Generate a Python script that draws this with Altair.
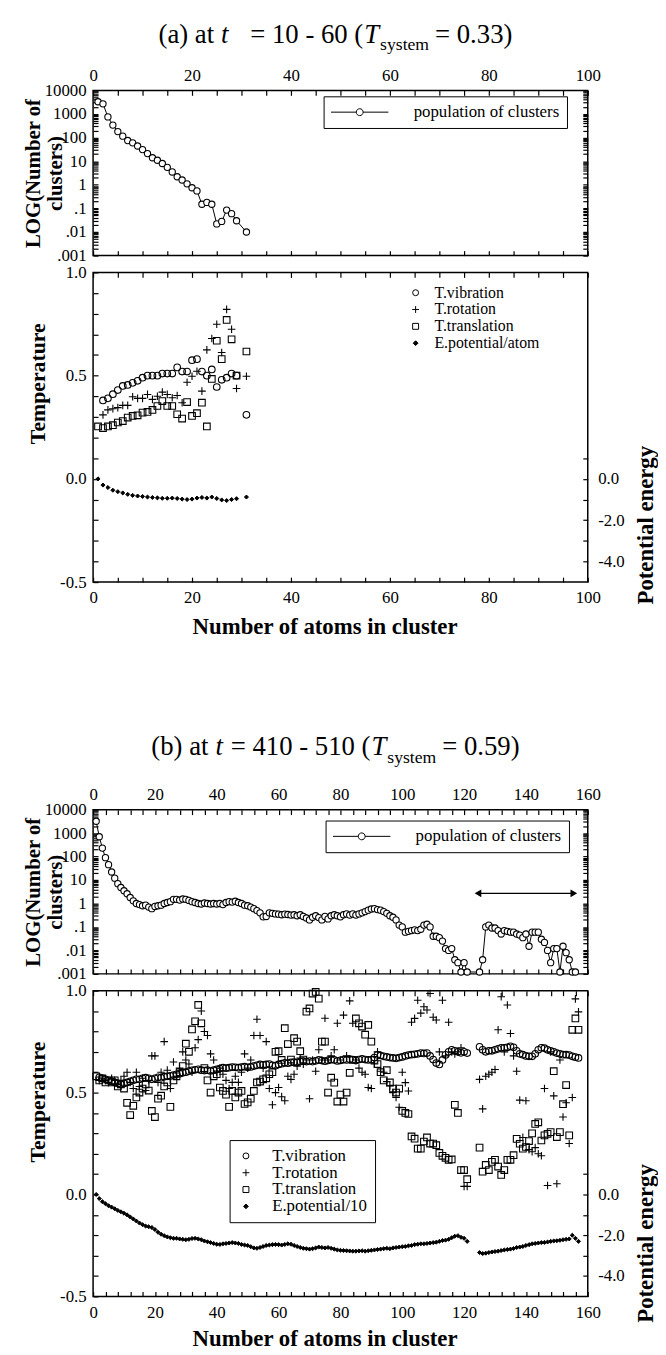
import altair as alt
import pandas as pd

FONT = "Liberation Serif"
PLUS = "M-1.15,0H1.15M0,-1.15V1.15"
DIAMOND = "M0,-0.8L0.8,0L0,0.8L-0.8,0Z"
LINE_CIRCLE = ("M-1,0H-0.12M0.12,0H1M0.12,0A0.12,0.12,0,1,1,-0.12,0"
               "A0.12,0.12,0,1,1,0.12,0Z")

# ---------------- panel (a): t = 10 - 60 ----------------
a_pop_n = list(range(1, 30)) + [31]
a_pop = [3300, 2700, 750, 340, 180, 115, 75, 60, 44, 31,
         21, 14, 11, 8, 5.5, 3.5, 2.2, 1.6, 1.1, 0.75,
         0.55, 0.15, 0.18, 0.15, 0.022, 0.028, 0.085, 0.06, 0.03, 0.01]

a_vib_n = list(range(2, 30)) + [31]
a_vib = [0.38, 0.39, 0.41, 0.43, 0.45, 0.455, 0.465, 0.475, 0.49, 0.50,
         0.50, 0.50, 0.51, 0.51, 0.51, 0.54, 0.52, 0.52, 0.575, 0.58,
         0.52, 0.50, 0.53, 0.445, 0.48, 0.49, 0.51, 0.50, 0.31]

a_rot_n = list(range(2, 30)) + [31]
a_rot = [0.31, 0.334, 0.34, 0.345, 0.356, 0.356, 0.398, 0.39, 0.39, 0.409,
         0.385, 0.40, 0.42, 0.409, 0.393, 0.404, 0.369, 0.468, 0.497, 0.521,
         0.425, 0.625, 0.68, 0.749, 0.612, 0.821, 0.725, 0.438, 0.497]

a_tra_n = list(range(1, 30)) + [31]
a_tra = [0.254, 0.246, 0.254, 0.26, 0.273, 0.28, 0.297, 0.305, 0.308, 0.321,
         0.324, 0.334, 0.353, 0.377, 0.353, 0.353, 0.313, 0.292, 0.372, 0.305,
         0.318, 0.369, 0.254, 0.484, 0.669, 0.58, 0.77, 0.676, 0.50, 0.617]

a_pot_n = list(range(1, 30)) + [31]
a_pot = [0.0, -0.30, -0.42, -0.55, -0.62, -0.68, -0.75, -0.80, -0.83, -0.85,
         -0.88, -0.90, -0.92, -0.94, -0.94, -0.93, -0.95, -0.98, -1.0, -0.98,
         -0.93, -0.90, -0.93, -0.88, -0.95, -1.02, -1.05, -1.0, -0.96, -0.88]

# ---------------- panel (b): t = 410 - 510 ----------------
b_pop_n = list(range(1, 122)) + list(range(125, 157))
b_pop = [3200, 700, 230, 90, 45, 22, 12, 7, 4.8, 3.5, 2.6, 1.8, 1.3, 1.0, 0.9, 0.8, 0.85, 0.7, 0.6, 0.75,
         0.8, 0.85, 1.0, 1.1, 1.2, 1.5, 1.5, 1.4, 1.55, 1.5, 1.35, 1.2, 1.1, 1.0, 0.95, 1.05, 1.0, 0.95, 1.0, 0.95,
         1.0, 0.9, 1.1, 1.2, 1.15, 1.25, 1.1, 1.0, 0.85, 0.8, 0.7, 0.6, 0.5, 0.4, 0.27, 0.28, 0.4, 0.38, 0.36, 0.35,
         0.33, 0.35, 0.34, 0.32, 0.33, 0.3, 0.33, 0.28, 0.24, 0.2, 0.26, 0.3, 0.25, 0.2, 0.28, 0.22, 0.3, 0.33,
         0.3, 0.27, 0.33, 0.36, 0.32,
         0.36, 0.32, 0.36, 0.4, 0.45, 0.52, 0.58, 0.6, 0.55, 0.52, 0.45, 0.38, 0.3, 0.26,
         0.2, 0.12, 0.1, 0.06, 0.065, 0.07, 0.075, 0.07, 0.08, 0.12, 0.13, 0.1, 0.04, 0.04, 0.035, 0.025,
         0.012, 0.01, 0.012, 0.004, 0.003, 0.0012, 0.003, 0.0012,
         0.0012, 0.004, 0.1, 0.12, 0.09, 0.09, 0.07, 0.05, 0.07, 0.065, 0.06, 0.06, 0.05, 0.045, 0.035, 0.05,
         0.015, 0.06, 0.06, 0.06, 0.03, 0.022, 0.01, 0.003, 0.012, 0.012, 0.0012, 0.015, 0.008, 0.004,
         0.0012, 0.0012]

b_vib_n = list(range(2, 122)) + list(range(125, 158))
b_vib = [0.575, 0.57, 0.565, 0.56, 0.555, 0.55, 0.545,
         0.54, 0.545, 0.55, 0.555, 0.56, 0.565, 0.565,
         0.57, 0.573, 0.57, 0.565, 0.57, 0.575, 0.573, 0.578, 0.58, 0.582,
         0.586, 0.59, 0.593, 0.597, 0.60, 0.605, 0.609, 0.612,
         0.614, 0.61, 0.608, 0.61, 0.606, 0.61, 0.614, 0.618,
         0.622, 0.62, 0.622, 0.625, 0.624, 0.622, 0.625, 0.627, 0.624,
         0.626, 0.63, 0.634, 0.638, 0.636, 0.638, 0.64, 0.634, 0.632, 0.638,
         0.642, 0.646, 0.644, 0.648, 0.65, 0.648, 0.652, 0.654, 0.652, 0.655,
         0.652, 0.656, 0.66, 0.657, 0.654, 0.658, 0.662, 0.66, 0.655, 0.658,
         0.662, 0.66, 0.664, 0.662, 0.657, 0.662, 0.665, 0.662, 0.66, 0.662,
         0.672, 0.685, 0.682, 0.678, 0.675, 0.672, 0.67, 0.668, 0.672, 0.675,
         0.68, 0.684, 0.686, 0.688, 0.69, 0.694, 0.692, 0.694, 0.68, 0.662,
         0.645, 0.638, 0.66, 0.685, 0.70, 0.71, 0.705, 0.70, 0.695, 0.70, 0.694,
         0.725, 0.71, 0.70, 0.705, 0.705, 0.71, 0.715, 0.72, 0.72, 0.722,
         0.727, 0.722, 0.705, 0.69, 0.686, 0.68, 0.678, 0.678, 0.69, 0.71,
         0.72, 0.718, 0.71, 0.705, 0.70, 0.694, 0.69, 0.686, 0.686, 0.684,
         0.678, 0.674, 0.67]

b_rot_n = list(range(2, 122)) + list(range(125, 158))
b_rot = [0.56, 0.57, 0.56, 0.55, 0.57, 0.56, 0.54, 0.56, 0.58, 0.60, 0.55, 0.52, 0.60, 0.53, 0.57, 0.51, 0.56, 0.68, 0.68, 0.55,
         0.60, 0.75, 0.61, 0.52, 0.65, 0.58, 0.62, 0.70, 0.66, 0.64, 0.60, 0.72, 0.76, 0.90, 0.80, 0.78, 0.69, 0.66, 0.60, 0.62,
         0.59, 0.56, 0.52, 0.55, 0.58, 0.55, 0.60, 0.69, 0.62, 0.66, 0.78, 0.86, 0.78, 0.62, 0.75, 0.52, 0.44, 0.50, 0.525, 0.48,
         0.46, 0.58, 0.565, 0.59, 0.63, 0.67, 0.64, 0.66, 0.47, 0.66, 0.605, 0.71, 0.66, 0.865, 0.66, 0.68, 0.71, 0.84, 0.66, 0.88,
         0.68, 0.95, 0.84, 0.66, 0.62, 0.60, 0.59, 0.525, 0.52, 0.64, 0.70, 0.605, 0.60, 0.554, 0.533, 0.50, 0.476, 0.428, 0.60, 0.549,
         0.508, 0.845, 0.864, 0.953, 0.89, 0.921, 0.905, 0.986, 0.87, 0.856, 0.70, 0.953, 0.68, 0.845, 0.70, 0.69, 0.70, 0.72, 0.04, 0.04,
         0.565, 0.42, 0.58, 0.59, 0.60, 0.613, 0.808, 0.97, 0.70, 0.93,
         0.79, 0.68, 0.605, 0.463, 0.28, 0.46, 0.22, 0.21, 0.23, 0.20,
         0.19, 0.52, 0.044, 0.70, 0.484, 0.053, 0.66, 0.38, 0.45, 0.25,
         0.476, 0.96, 0.896]

b_tra_n = list(range(1, 122)) + list(range(125, 158))
b_tra = [0.58, 0.56, 0.57, 0.55, 0.56, 0.55, 0.56, 0.53, 0.54, 0.52, 0.45, 0.39, 0.435, 0.476, 0.50, 0.52, 0.54, 0.51, 0.41, 0.38,
         0.47, 0.485, 0.53, 0.55, 0.43, 0.56, 0.58, 0.60, 0.63, 0.74, 0.70, 0.81, 0.85, 0.93, 0.84, 0.62, 0.56, 0.50, 0.58, 0.59,
         0.525, 0.508, 0.49, 0.43, 0.508, 0.476, 0.50, 0.508, 0.444, 0.452, 0.47, 0.508, 0.55, 0.554, 0.565, 0.57, 0.59, 0.60, 0.70, 0.703,
         0.66, 0.816, 0.738, 0.662, 0.767, 0.75, 0.703, 0.662, 0.897, 0.913, 0.986, 0.994, 0.961, 0.75, 0.75, 0.50, 0.573, 0.549, 0.456, 0.49,
         0.456, 0.50, 0.597, 0.66, 0.864, 0.84, 0.824, 0.784, 0.832, 0.75, 0.66, 0.64, 0.60, 0.56, 0.61, 0.55, 0.52, 0.50, 0.52, 0.41,
         0.40, 0.395, 0.285, 0.274, 0.225, 0.225, 0.26, 0.28, 0.25, 0.25, 0.242, 0.204, 0.19, 0.18, 0.17, 0.172, 0.44, 0.40, 0.12, 0.12, 0.075,
         0.23, 0.112, 0.145, 0.12, 0.16, 0.17, 0.137, 0.096, 0.12, 0.17,
         0.17, 0.193, 0.273, 0.249, 0.225, 0.233, 0.262, 0.30, 0.346, 0.354,
         0.265, 0.29, 0.298, 0.306, 0.605, 0.282, 0.306, 0.443, 0.537, 0.29,
         0.808, 0.864, 0.808]

b_pot_n = list(range(1, 122)) + list(range(125, 158))
b_pot = [0.0, -0.2, -0.35, -0.45, -0.55, -0.62, -0.7, -0.78, -0.85, -0.92, -1.0, -1.1, -1.2, -1.3, -1.4, -1.48, -1.55, -1.58, -1.62, -1.72,
         -1.85, -1.95, -2.02, -2.08, -2.12, -2.15, -2.15, -2.18, -2.2, -2.22, -2.2, -2.16, -2.15, -2.18, -2.22, -2.28, -2.32, -2.36, -2.4, -2.44,
         -2.45, -2.42, -2.4, -2.38, -2.36, -2.38, -2.4, -2.45, -2.48, -2.5, -2.56, -2.62, -2.64, -2.6, -2.55, -2.5, -2.48, -2.46, -2.45, -2.46,
         -2.48, -2.45, -2.42, -2.44, -2.5, -2.55, -2.6, -2.64, -2.66, -2.68, -2.66, -2.62, -2.58, -2.6, -2.62, -2.6, -2.64, -2.68, -2.72, -2.74,
         -2.75, -2.76, -2.77, -2.78, -2.78, -2.77, -2.76, -2.78, -2.76, -2.74, -2.72, -2.7, -2.68, -2.66, -2.64, -2.66, -2.62, -2.6, -2.58, -2.56,
         -2.55, -2.52, -2.5, -2.46, -2.44, -2.42, -2.42, -2.4, -2.38, -2.36, -2.34, -2.3, -2.26, -2.24, -2.2, -2.12, -2.05, -2.02, -2.1, -2.15, -2.3,
         -2.85, -2.9, -2.88, -2.85, -2.82, -2.8, -2.78, -2.75, -2.72, -2.7,
         -2.68, -2.65, -2.6, -2.58, -2.55, -2.5, -2.46, -2.42, -2.4, -2.38,
         -2.36, -2.35, -2.33, -2.3, -2.28, -2.27, -2.25, -2.22, -2.2, -2.18,
         -2.0, -2.15, -2.3]

b_arrow_n = [124.5, 155.5]
b_arrow_y = 2.7

# title pieces: text, style, kind, gap after (px)
titles_a = [("(a) at", "normal", "main", 7), ("t", "italic", "main", 22), ("= 10 - 60 (", "normal", "main", 1),
            ("T", "italic", "main", 1), ("system", "normal", "sub", 6), ("= 0.33)", "normal", "main", 0)]
titles_b = [("(b) at", "normal", "main", 7), ("t", "italic", "main", 8), ("= 410 - 510 (", "normal", "main", 1),
            ("T", "italic", "main", 1), ("system", "normal", "sub", 6), ("= 0.59)", "normal", "main", 0)]

# ---------------- helpers ----------------
W = 500
TK = 5  # tick length; ticks drawn inward by pulling each axis in by TK
ONE = pd.DataFrame({"k": [0]})
CW = {" ": 250, "(": 333, ")": 333, "a": 444, "b": 500, "t": 278, "=": 564, "-": 333, ".": 250,
      "T": 611, "s": 389, "y": 500, "e": 444, "m": 778}


def text_w(s, size, italic=False):
    tot = 0
    for ch in s:
        if ch.isdigit():
            tot += 500
        elif italic and ch == "T":
            tot += 556
        else:
            tot += CW.get(ch, 500)
    return tot * size / 1000.0


def title_layers(pieces, cx, base_y, size=27):
    sub = size * 0.66
    widths = [text_w(t, sub if k == "sub" else size, st == "italic") for t, st, k, g in pieces]
    total = sum(widths) + sum(p[3] for p in pieces)
    x = cx - total / 2
    out = []
    for (t, st, kind, gap), w in zip(pieces, widths):
        fs = sub if kind == "sub" else size
        dy = size * 0.28 if kind == "sub" else 0
        out.append(alt.Chart(ONE).mark_text(text=t, font=FONT, fontSize=fs, fontStyle=st, align="left",
                                            baseline="alphabetic", color="black")
                   .encode(x=alt.value(x), y=alt.value(base_y + dy)))
        x += w + gap
    return out


DECADES = [0.001, 0.01, 0.1, 1, 10, 100, 1000, 10000]
MINORS = [m * 10 ** k for k in range(-3, 4) for m in range(2, 10)]
LOG_LABEL = ("abs(log(datum.value)/LN10 - round(log(datum.value)/LN10)) < 0.001 ? "
             "(datum.value >= 1 ? format(datum.value, 'd') : replace(format(datum.value, '.3~f'), '0.', '.')) : ''")


def inward(**kw):
    return alt.Axis(offset=-TK, tickSize=TK, domain=False, labelOverlap=False, labelFlush=False, **kw)


def log_panel(n, pop, xmax, xstep, height, legend_xy, title_pieces, title_y, extra=None):
    df = pd.DataFrame({"n": n, "pop": pop, "series": "population of clusters"})
    xs = alt.Scale(domain=[0, xmax], nice=False, zero=False)
    ys = alt.Scale(type="log", domain=[0.001, 10000], nice=False)
    xvals = list(range(0, xmax + 1, xstep))
    top_axis = inward(orient="top", values=xvals, labelExpr="datum.value % 20 == 0 ? datum.label : ''",
                      title=None, labelPadding=1 + TK)
    bot_axis = inward(orient="bottom", values=xvals, labels=False, title=None)
    left_axis = inward(orient="left", values=DECADES + MINORS, labelExpr=LOG_LABEL,
                       title=["LOG(Number of", "clusters)"], titleX=-60 - TK, titleY=height / 2,
                       titleAngle=270, titleAlign="center", titleBaseline="middle", titleLineHeight=22,
                       titleFontSize=21, labelPadding=2 + TK)
    right_axis = inward(orient="right", values=DECADES + MINORS, labels=False, title=None)
    line = alt.Chart(df).mark_line(color="black", strokeWidth=1).encode(
        x=alt.X("n:Q", scale=xs, axis=top_axis), y=alt.Y("pop:Q", scale=ys, axis=left_axis))
    pts = alt.Chart(df).mark_point(shape="circle", filled=True, fill="white", size=40, strokeWidth=1.1,
                                   opacity=1).encode(
        x=alt.X("n:Q", scale=xs, axis=bot_axis), y=alt.Y("pop:Q", scale=ys, axis=right_axis),
        stroke=alt.Stroke("series:N", scale=alt.Scale(domain=["population of clusters"], range=["black"]),
                          legend=alt.Legend(title=None, orient="none", legendX=legend_xy[0], legendY=legend_xy[1],
                                            symbolType=LINE_CIRCLE, symbolSize=58 * 58, clipHeight=18,
                                            symbolFillColor="white", symbolStrokeColor="black",
                                            symbolStrokeWidth=1, labelFont=FONT, labelFontSize=17,
                                            labelOffset=25, padding=7, strokeColor="black")))
    layers = [line, pts]
    if extra is not None:
        layers += extra(xs, ys)
    layers += title_layers(title_pieces, 245, title_y)
    return alt.layer(*layers).properties(width=W, height=height)


def arrow_layers(xs, ys):
    adf = pd.DataFrame({"x1": [b_arrow_n[0]], "x2": [b_arrow_n[1]], "y": [b_arrow_y]})
    rule = alt.Chart(adf).mark_rule(color="black", strokeWidth=1.2).encode(
        x=alt.X("x1:Q", scale=xs, axis=None), x2="x2:Q", y=alt.Y("y:Q", scale=ys, axis=None))
    left = alt.Chart(adf).mark_point(shape="triangle-left", filled=True, color="black", size=60, opacity=1).encode(
        x=alt.X("x1:Q", scale=xs, axis=None), y=alt.Y("y:Q", scale=ys, axis=None))
    right = alt.Chart(adf).mark_point(shape="triangle-right", filled=True, color="black", size=60, opacity=1).encode(
        x=alt.X("x2:Q", scale=xs, axis=None), y=alt.Y("y:Q", scale=ys, axis=None))
    return [rule, left, right]


def temp_panel(vib, rot, tra, pot, pot_label, xmax, xstep, height, legend, xtitle_y):
    domain = ["T.vibration", "T.rotation", "T.translation", pot_label]
    shape_sc = alt.Scale(domain=domain, range=["circle", PLUS, "square", DIAMOND])
    fill_sc = alt.Scale(domain=domain, range=["transparent", "transparent", "transparent", "black"])
    stroke_sc = alt.Scale(domain=domain, range=["black", "black", "black", "black"])
    rows = []
    for (nn, vv), lab in ((vib, "T.vibration"), (rot, "T.rotation"), (tra, "T.translation")):
        for a, b in zip(nn, vv):
            rows.append({"n": a, "T": b, "series": lab})
    tdf = pd.DataFrame(rows)
    pdf = pd.DataFrame({"n": pot[0], "P": pot[1], "series": pot_label})
    xs = alt.Scale(domain=[0, xmax], nice=False, zero=False)
    xvals = list(range(0, xmax + 1, xstep))
    bot_axis = inward(orient="bottom", values=xvals, labelExpr="datum.value % 20 == 0 ? datum.label : ''",
                      title="Number of atoms in cluster", titleX=234, titleY=xtitle_y + TK,
                      titleBaseline="alphabetic", titleFontSize=23, labelPadding=3 + TK)
    top_axis = inward(orient="top", values=xvals, labels=False, title=None)
    tvals = [round(-0.5 + 0.1 * i, 1) for i in range(16)]
    left_axis = inward(orient="left", values=tvals,
                       labelExpr="abs(datum.value*2 - round(datum.value*2)) < 0.01 ? "
                                 "(datum.value < 0 ? '-' : '') + format(abs(datum.value), '.1f') : ''",
                       title="Temperature", titleX=-56 - TK, titleY=112, titleAngle=270,
                       titleAlign="center", titleBaseline="middle", labelPadding=2 + TK)
    right_axis = inward(orient="right", values=[-4, -3, -2, -1, 0, 1],
                        labelExpr="datum.value <= 0 && datum.value % 2 == 0 ? "
                                  "(datum.value < 0 ? '-' : '') + format(abs(datum.value), '.1f') : ''",
                        title="Potential energy", titleX=58 + TK, titleY=255, titleAngle=270,
                        titleAlign="center", titleBaseline="middle", titleFontSize=23,
                        labelPadding=5 + TK)
    enc_common = dict(
        shape=alt.Shape("series:N", scale=shape_sc, legend=legend),
        fill=alt.Fill("series:N", scale=fill_sc, legend=legend),
        stroke=alt.Stroke("series:N", scale=stroke_sc, legend=legend))
    temps = alt.Chart(tdf).mark_point(filled=True, size=45, strokeWidth=1.1, opacity=1).encode(
        x=alt.X("n:Q", scale=xs, axis=bot_axis),
        y=alt.Y("T:Q", scale=alt.Scale(domain=[-0.5, 1.0], nice=False, zero=False), axis=left_axis),
        **enc_common)
    potl = alt.Chart(pdf).mark_point(filled=True, size=26, strokeWidth=1, opacity=1).encode(
        x=alt.X("n:Q", scale=xs, axis=top_axis),
        y=alt.Y("P:Q", scale=alt.Scale(domain=[-5, 10], nice=False, zero=False), axis=right_axis),
        **enc_common)
    return alt.layer(temps, potl).resolve_scale(y="independent").properties(width=W, height=height)


def temp_legend(x, y, boxed, fs, row, offset):
    kw = dict(title=None, orient="none", legendX=x, legendY=y, labelFont=FONT, labelFontSize=fs,
              symbolSize=36, symbolStrokeWidth=1, rowPadding=0,
              clipHeight=row, padding=8, labelOffset=offset)
    if boxed:
        kw["strokeColor"] = "black"
    return alt.Legend(**kw)


a_log = log_panel(a_pop_n, a_pop, 100, 5, 167, (233, 6), titles_a, -48)
a_temp = temp_panel((a_vib_n, a_vib), (a_rot_n, a_rot), (a_tra_n, a_tra), (a_pot_n, a_pot),
                    "E.potential/atom", 100, 5, 313, temp_legend(310, 5, False, 16, 15, 11), 52)
spacer = alt.Chart(ONE).mark_point(opacity=0).encode(x=alt.value(0), y=alt.value(0)).properties(
    width=W, height=196, view=alt.ViewBackground(strokeOpacity=0))
b_log = log_panel(b_pop_n, b_pop, 160, 4, 166, (235, 11), titles_b, -55, extra=arrow_layers)
b_temp = temp_panel((b_vib_n, b_vib), (b_rot_n, b_rot), (b_tra_n, b_tra), (b_pot_n, b_pot),
                    "E.potential/10", 160, 4, 309, temp_legend(138, 151, True, 17, 16, 18), 50)

chart = alt.vconcat(a_log, a_temp, spacer, b_log, b_temp, spacing=17, bounds="flush").resolve_scale(
    shape="independent", fill="independent", stroke="independent"
).resolve_legend(shape="independent", fill="independent", stroke="independent").properties(
    padding={"left": 14, "top": 5, "right": 0, "bottom": 0}, background="white"
).configure_view(stroke="black", strokeWidth=1.5).configure_axis(
    labelFont=FONT, titleFont=FONT, labelFontSize=17, titleFontSize=22, titleFontWeight="bold",
    labelColor="black", titleColor="black", tickColor="black", tickWidth=1.2, grid=False
).configure_legend(labelColor="black")

chart.save("out.html", embed_options={"renderer": "svg", "actions": False})
